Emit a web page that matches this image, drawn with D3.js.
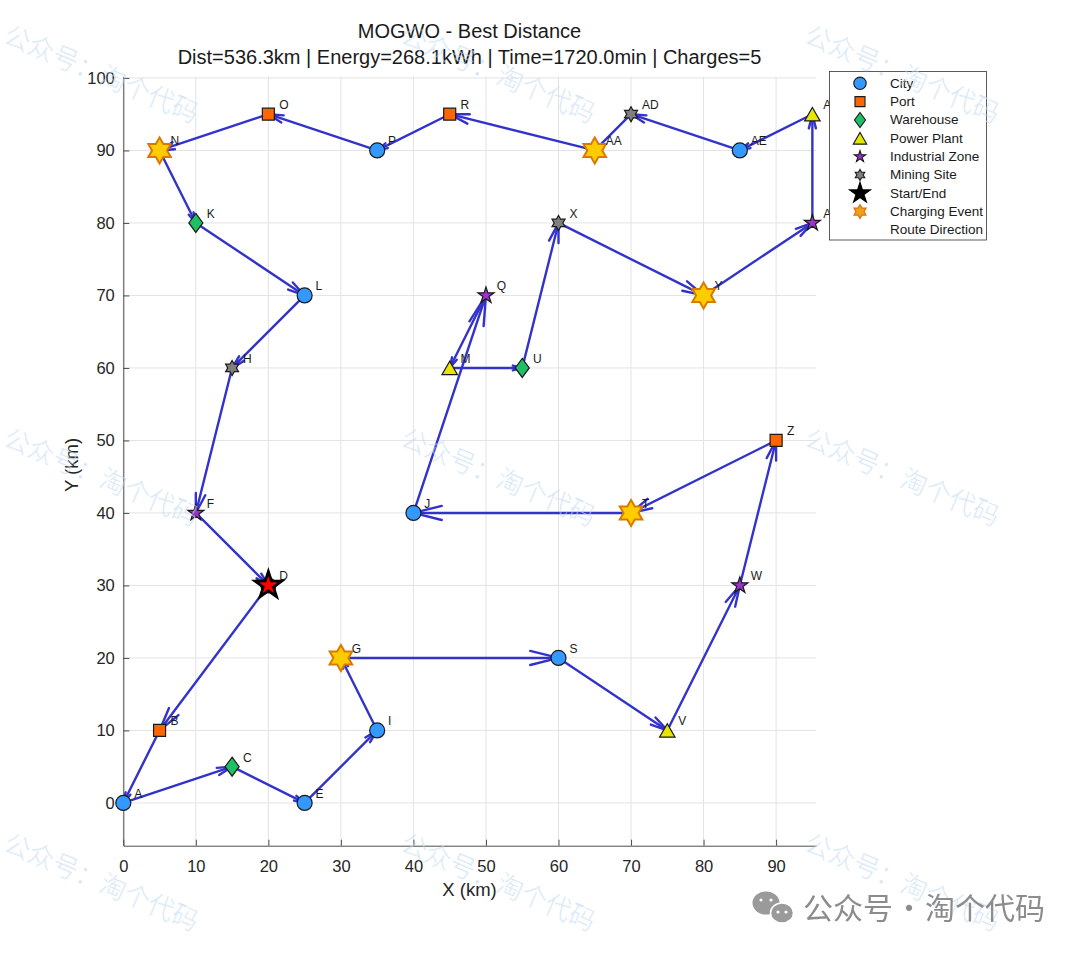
<!DOCTYPE html>
<html>
<head>
<meta charset="utf-8">
<script src="https://cdn.jsdelivr.net/npm/d3@7"></script>
<style>
  body { margin: 0; background: #fff; }
  svg { display: block; font-family: "Liberation Sans", Arial, sans-serif; }
</style>
</head>
<body>
<svg id="chart" width="1080" height="953"></svg>
<script>
// node data
const nodeNames = ["A","B","C","D","E","F","G","H","I","J","K","L","M","N","O","P","Q","R","S","T","U","V","W","X","Y","Z","AA","AB","AC","AD","AE"];
const nodeX = [0,5,15,20,25,10,30,15,35,40,10,25,45,5,20,35,50,45,60,70,55,75,85,60,80,90,65,95,95,70,85];
const nodeY = [0,10,5,30,0,40,20,60,10,40,80,70,60,90,95,90,70,95,20,40,60,10,30,80,70,50,90,80,95,95,90];
const nodeTypes = ["City","Port","Warehouse","City","City","Industrial Zone","City","Mining Site","City","City",
  "Warehouse","City","Power Plant","City","Port","City","Industrial Zone","Port","City","City",
  "Warehouse","Power Plant","Industrial Zone","Mining Site","City","Port","City","Industrial Zone","Power Plant","Mining Site","City"];

// best route (start and end at D)
const route = ["D","B","A","C","E","I","G","S","V","W","Z","T","J","Q","M","U","X","Y","AB","AC","AE","AD","AA","R","P","O","N","K","L","H","F","D"];
const chargeStops = ["G","N","T","Y","AA"];
const startNode = "D";

const titleLines = ["MOGWO - Best Distance", "Dist=536.3km | Energy=268.1kWh | Time=1720.0min | Charges=5"];
const xTicks = [0,10,20,30,40,50,60,70,80,90];
const yTicks = [0,10,20,30,40,50,60,70,80,90,100];
const legendLabels = ["City","Port","Warehouse","Power Plant","Industrial Zone","Mining Site","Start/End","Charging Event","Route Direction"];

const svg = d3.select("#chart");

const x = d3.scaleLinear().domain([0, 95.5]).range([123.3, 816]);
const y = d3.scaleLinear().domain([-5.9, 100.2]).range([845.7, 76.5]);

const typeStyle = {
  "City":            { shape: "circle",   size: 7.5, fill: "#3399ff" },
  "Port":            { shape: "square",   size: 12,  fill: "#ff6600" },
  "Warehouse":       { shape: "diamond",  size: 19,  fill: "#1fbf66" },
  "Power Plant":     { shape: "triangle", size: 15.5, fill: "#e6e600" },
  "Industrial Zone": { shape: "penta",    size: 8.5, fill: "#9933cc" },
  "Mining Site":     { shape: "hexa",     size: 7.5, fill: "#808080" }
};

function starPath(n, rOut, rIn) {
  const pts = [];
  for (let i = 0; i < 2 * n; i++) {
    const r = i % 2 ? rIn : rOut;
    const a = -Math.PI / 2 + i * Math.PI / n;
    pts.push([r * Math.cos(a), r * Math.sin(a)]);
  }
  return "M" + pts.map(p => p[0].toFixed(2) + "," + p[1].toFixed(2)).join("L") + "Z";
}

function markerPath(shape, s) {
  if (shape === "circle") return d3.symbol(d3.symbolCircle, Math.PI * s * s)();
  if (shape === "square") return `M${-s/2},${-s/2}H${s/2}V${s/2}H${-s/2}Z`;
  if (shape === "diamond") { const w = s * 0.74; return `M0,${-s/2}L${w/2},0L0,${s/2}L${-w/2},0Z`; }
  if (shape === "triangle") { const h = s * 0.87; return `M0,${-h/2}L${s/2},${h/2}L${-s/2},${h/2}Z`; }
  if (shape === "penta") return starPath(5, s, s * 0.382);
  if (shape === "hexa") return starPath(6, s, s * 0.577);
}

const nodes = nodeNames.map((n, i) => ({ name: n, x: nodeX[i], y: nodeY[i], type: nodeTypes[i] }));
const byName = {};
nodes.forEach(d => byName[d.name] = d);

// grid
const grid = svg.append("g");
grid.selectAll(".gx").data(xTicks).enter().append("line")
  .attr("x1", d => x(d)).attr("x2", d => x(d))
  .attr("y1", y.range()[0]).attr("y2", y.range()[1])
  .attr("stroke", "#e3e3e3").attr("stroke-width", 1);
grid.selectAll(".gy").data(yTicks).enter().append("line")
  .attr("y1", d => y(d)).attr("y2", d => y(d))
  .attr("x1", x.range()[0]).attr("x2", x.range()[1])
  .attr("stroke", "#e3e3e3").attr("stroke-width", 1);

// axes, ticks pointing inside
const xAxis = svg.append("g")
  .attr("transform", `translate(0,${y.range()[0]})`)
  .call(d3.axisBottom(x).tickValues(xTicks).tickSizeInner(-6).tickSizeOuter(0).tickPadding(14.5));
const yAxis = svg.append("g")
  .attr("transform", `translate(${x.range()[0]},0)`)
  .call(d3.axisLeft(y).tickValues(yTicks).tickSizeInner(-6).tickSizeOuter(0).tickPadding(8.5));
[xAxis, yAxis].forEach(a => {
  a.selectAll("path, line").attr("stroke", "#4d4d4d").attr("stroke-width", 1);
  a.selectAll("text").attr("fill", "#262626").style("font-size", "16.5px").style("font-family", "Liberation Sans, Arial, sans-serif");
});

svg.append("text").attr("x", 469.5).attr("y", 896).attr("text-anchor", "middle")
  .style("font-size", "18.5px").attr("fill", "#262626").text("X (km)");
svg.append("text").attr("transform", "translate(78,465) rotate(-90)").attr("text-anchor", "middle")
  .style("font-size", "18.5px").attr("fill", "#262626").text("Y (km)");

// title
svg.append("text").attr("x", 469.5).attr("y", 38).attr("text-anchor", "middle")
  .style("font-size", "20px").attr("fill", "#1a1a1a").text(titleLines[0]);
svg.append("text").attr("x", 469.5).attr("y", 63.5).attr("text-anchor", "middle")
  .style("font-size", "20px").attr("fill", "#1a1a1a").text(titleLines[1]);

// route with arrow heads at each stop
const routeColor = "#3333cc";
const segs = d3.pairs(route).map(([a, b]) => ({ a: byName[a], b: byName[b] }));
const routeG = svg.append("g");
routeG.selectAll(".seg").data(segs).enter().append("line")
  .attr("x1", d => x(d.a.x)).attr("y1", d => y(d.a.y))
  .attr("x2", d => x(d.b.x)).attr("y2", d => y(d.b.y))
  .attr("stroke", routeColor).attr("stroke-width", 2.4).attr("stroke-linecap", "round");
routeG.selectAll(".head").data(segs).enter().append("path")
  .attr("d", d => {
    const x1 = x(d.a.x), y1 = y(d.a.y), x2 = x(d.b.x), y2 = y(d.b.y);
    const dx = x2 - x1, dy = y2 - y1, len = Math.hypot(dx, dy);
    const ux = dx / len, uy = dy / len;
    const hl = 0.13 * len, hw = 0.25 * hl;
    const bx = x2 - ux * hl, by = y2 - uy * hl;
    return `M${bx - uy * hw},${by + ux * hw}L${x2},${y2}L${bx + uy * hw},${by - ux * hw}`;
  })
  .attr("fill", "none").attr("stroke", routeColor).attr("stroke-width", 2.4)
  .attr("stroke-linecap", "round").attr("stroke-linejoin", "miter");

// node markers
const markG = svg.append("g");
markG.selectAll(".node").data(nodes).enter().append("path")
  .attr("transform", d => `translate(${x(d.x)},${y(d.y)})`)
  .attr("d", d => markerPath(typeStyle[d.type].shape, typeStyle[d.type].size))
  .attr("fill", d => typeStyle[d.type].fill)
  .attr("stroke", "#1a1a1a").attr("stroke-width", 1.2);

// charging events
markG.selectAll(".charge").data(chargeStops.map(n => byName[n])).enter().append("path")
  .attr("transform", d => `translate(${x(d.x)},${y(d.y)})`)
  .attr("d", starPath(6, 13, 13 * 0.577))
  .attr("fill", "#ffcc00").attr("stroke", "#d97a00").attr("stroke-width", 2).attr("stroke-linejoin", "miter");

// start / end
const s0 = byName[startNode];
markG.append("path").attr("transform", `translate(${x(s0.x)},${y(s0.y)})`)
  .attr("d", starPath(5, 16, 16 * 0.382)).attr("fill", "#000").attr("stroke", "#000").attr("stroke-width", 1.5);
markG.append("path").attr("transform", `translate(${x(s0.x)},${y(s0.y)})`)
  .attr("d", starPath(5, 8.5, 8.5 * 0.382)).attr("fill", "#ff0000").attr("stroke", "#ff0000").attr("stroke-width", 0.8);

// node labels
svg.append("g").selectAll("text").data(nodes).enter().append("text")
  .attr("x", d => x(d.x + 1.5)).attr("y", d => y(d.y + 1.25))
  .attr("dominant-baseline", "central")
  .style("font-size", "12px").attr("fill", "#1a1a1a")
  .text(d => d.name);

// legend
const legend = svg.append("g");
legend.append("rect").attr("x", 829.5).attr("y", 71.5).attr("width", 157).attr("height", 168.5)
  .attr("fill", "#fff").attr("stroke", "#333").attr("stroke-width", 0.8);
const legendMarks = [
  { d: markerPath("circle", 6.2), fill: "#3399ff", stroke: "#1a1a1a" },
  { d: markerPath("square", 10), fill: "#ff6600", stroke: "#1a1a1a" },
  { d: markerPath("diamond", 15), fill: "#1fbf66", stroke: "#1a1a1a" },
  { d: markerPath("triangle", 13.5), fill: "#e6e600", stroke: "#1a1a1a" },
  { d: starPath(5, 6, 6 * 0.382), fill: "#9933cc", stroke: "#1a1a1a" },
  { d: starPath(6, 5.5, 5.5 * 0.577), fill: "#808080", stroke: "#1a1a1a" },
  { d: starPath(5, 11, 11 * 0.382), fill: "#000", stroke: "#000" },
  { d: starPath(6, 7, 7 * 0.577), fill: "#f0a020", stroke: "#e07000" },
  null
];
legendLabels.forEach((lab, i) => {
  const cy = 83.3 + i * 18.33;
  const m = legendMarks[i];
  if (m) legend.append("path").attr("transform", `translate(860,${cy})`).attr("d", m.d)
    .attr("fill", m.fill).attr("stroke", m.stroke).attr("stroke-width", 1.1);
  legend.append("text").attr("x", 890).attr("y", cy).attr("dominant-baseline", "central")
    .style("font-size", "13.5px").attr("fill", "#1a1a1a").text(lab);
});

// watermark overlay
const wmX = [2, 399, 803];
const wmY = [42, 445, 850];
const wm = svg.append("g").attr("opacity", 0.7);
wmY.forEach(wy => wmX.forEach(wx => {
  wm.append("text").attr("transform", `translate(${wx},${wy}) rotate(23)`)
    .style("font-family", "Noto Sans CJK SC, sans-serif").style("font-size", "26px").style("font-weight", 300)
    .attr("fill", "#c4dbf1").text("公众号：淘个代码");
}));

// account badge bottom right
const badge = svg.append("g");
badge.append("ellipse").attr("cx", 766).attr("cy", 903).attr("rx", 13.5).attr("ry", 11.5).attr("fill", "#9a9a9a");
badge.append("ellipse").attr("cx", 782).attr("cy", 913).attr("rx", 11.5).attr("ry", 10).attr("fill", "#9a9a9a").attr("stroke", "#fff").attr("stroke-width", 1.5);
[[761, 900], [771, 900], [778, 912], [786, 912]].forEach(p =>
  badge.append("circle").attr("cx", p[0]).attr("cy", p[1]).attr("r", 1.6).attr("fill", "#fff"));
badge.append("text").attr("x", 803).attr("y", 919).style("font-family", "Noto Sans CJK SC, sans-serif")
  .style("font-size", "30px").attr("fill", "#8c8c8c").text("公众号");
badge.append("text").attr("x", 909).attr("y", 919).attr("text-anchor", "middle").style("font-family", "Noto Sans CJK SC, sans-serif")
  .style("font-size", "30px").attr("fill", "#8c8c8c").text("·");
badge.append("text").attr("x", 925).attr("y", 919).style("font-family", "Noto Sans CJK SC, sans-serif")
  .style("font-size", "30px").attr("fill", "#8c8c8c").text("淘个代码");
</script>
</body>
</html>
